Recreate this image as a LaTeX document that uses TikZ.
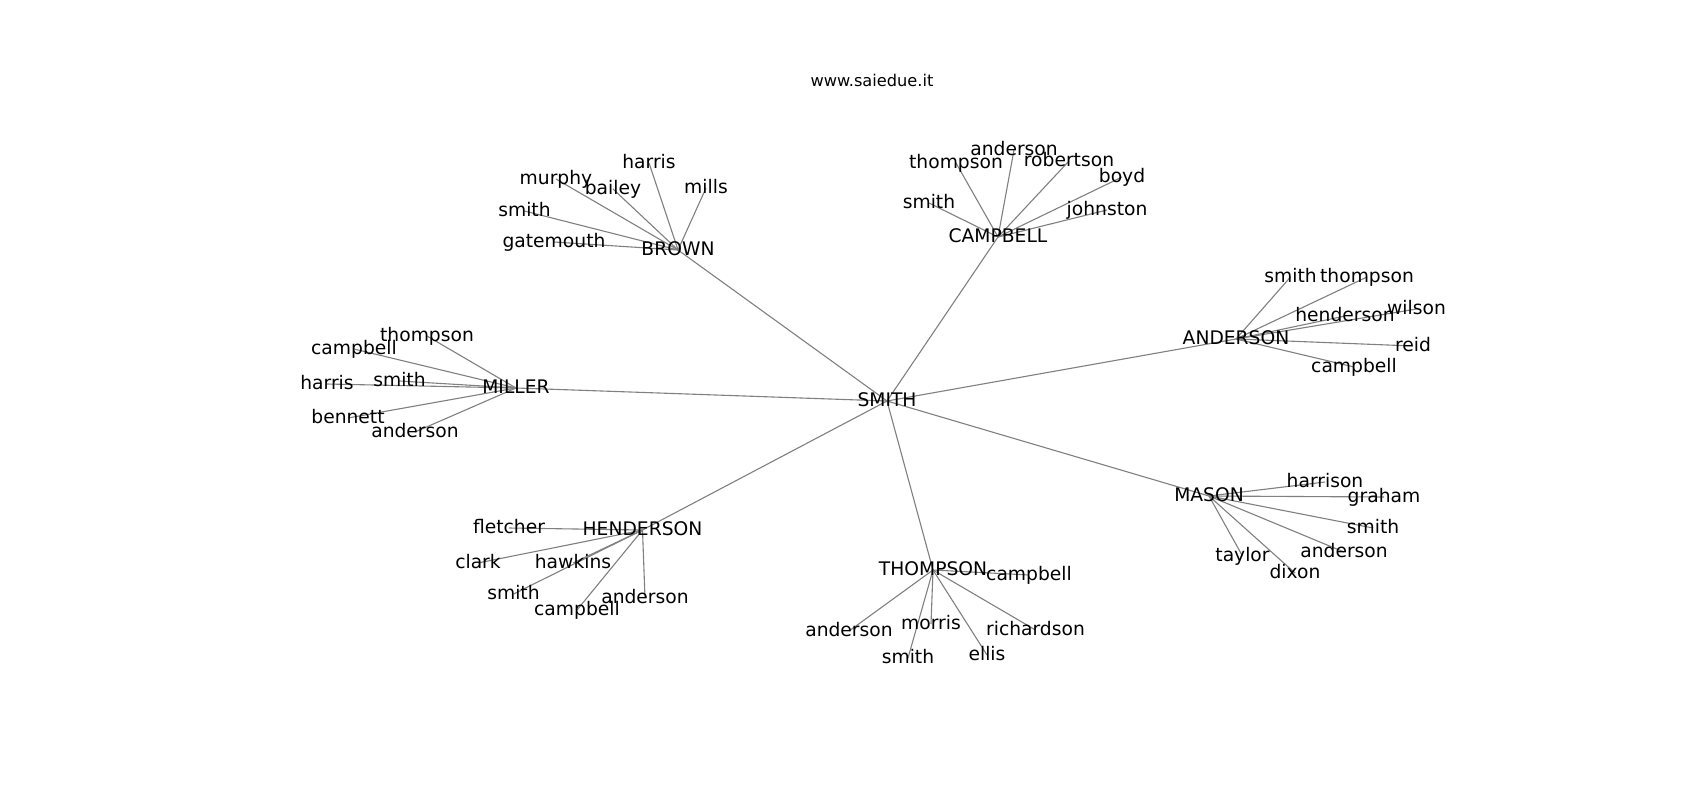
\documentclass[tikz,border=0pt]{standalone}
\usepackage{fontspec}
\setmainfont{DejaVu Sans}
\definecolor{edgegray}{RGB}{128,128,128}
\tikzset{
  lbl/.style={anchor=base, yshift=-5pt, inner sep=0pt, font=\fontsize{18.7}{20}\selectfont, text=black},
  ttl/.style={anchor=base, inner sep=0pt, font=\fontsize{16.2}{18}\selectfont, text=black},
  edge/.style={draw=edgegray, line width=1.1pt}
}
\begin{document}
\begin{tikzpicture}[x=1pt,y=-1pt]
\fill[white] (0,0) rectangle (1700,800);
\useasboundingbox (0,0) rectangle (1700,800);
% hubs
\coordinate (smith0) at (887,401);
\coordinate (brown) at (678,250);
\coordinate (campbell) at (998,237);
\coordinate (anderson) at (1236,339);
\coordinate (miller) at (516,388);
\coordinate (henderson) at (642.5,530);
\coordinate (thompson) at (933,570);
\coordinate (mason) at (1209,496);
% BROWN leaves
\coordinate (harrisB) at (649,163);
\coordinate (millsB) at (706,188);
\coordinate (murphyB) at (556,179);
\coordinate (baileyB) at (613,189);
\coordinate (smithB) at (524.5,211);
\coordinate (gatemouthB) at (554,242);
% CAMPBELL leaves
\coordinate (andersonC) at (1014,150);
\coordinate (thompsonC) at (956,163);
\coordinate (robertsonC) at (1069,161);
\coordinate (boydC) at (1122,177);
\coordinate (smithC) at (929,203);
\coordinate (johnstonC) at (1107,210);
% ANDERSON leaves
\coordinate (smithA) at (1290.5,277);
\coordinate (thompsonA) at (1367,277);
\coordinate (wilsonA) at (1416.5,309);
\coordinate (hendersonA) at (1345,316);
\coordinate (reidA) at (1413,346);
\coordinate (campbellA) at (1354,367);
% MILLER leaves
\coordinate (thompsonM) at (427,336);
\coordinate (campbellM) at (354,349);
\coordinate (harrisM) at (327,384);
\coordinate (smithM) at (399.5,381);
\coordinate (bennettM) at (348,418);
\coordinate (andersonM) at (415,432);
% HENDERSON leaves
\coordinate (fletcherH) at (509,528);
\coordinate (clarkH) at (478,563);
\coordinate (hawkinsH) at (573,563);
\coordinate (smithH) at (513.5,594);
\coordinate (andersonH) at (645,598);
\coordinate (campbellH) at (577,610);
% THOMPSON leaves
\coordinate (campbellT) at (1029,575);
\coordinate (andersonT) at (849,631);
\coordinate (morrisT) at (931,624);
\coordinate (richardsonT) at (1035.5,630);
\coordinate (smithT) at (908,658);
\coordinate (ellisT) at (987,655);
% MASON leaves
\coordinate (harrisonMa) at (1325,482);
\coordinate (grahamMa) at (1384,497);
\coordinate (smithMa) at (1373,528);
\coordinate (andersonMa) at (1344,552);
\coordinate (taylorMa) at (1242.5,556);
\coordinate (dixonMa) at (1295,573);
% edges
\foreach \h in {brown,campbell,anderson,miller,henderson,thompson,mason}
  \draw[edge] (smith0) -- (\h);
\foreach \l in {harrisB,millsB,murphyB,baileyB,smithB,gatemouthB}
  \draw[edge] (brown) -- (\l);
\foreach \l in {andersonC,thompsonC,robertsonC,boydC,smithC,johnstonC}
  \draw[edge] (campbell) -- (\l);
\foreach \l in {smithA,thompsonA,wilsonA,hendersonA,reidA,campbellA}
  \draw[edge] (anderson) -- (\l);
\foreach \l in {thompsonM,campbellM,harrisM,smithM,bennettM,andersonM}
  \draw[edge] (miller) -- (\l);
\foreach \l in {fletcherH,clarkH,hawkinsH,smithH,andersonH,campbellH}
  \draw[edge] (henderson) -- (\l);
\foreach \l in {campbellT,andersonT,morrisT,richardsonT,smithT,ellisT}
  \draw[edge] (thompson) -- (\l);
\foreach \l in {harrisonMa,grahamMa,smithMa,andersonMa,taylorMa,dixonMa}
  \draw[edge] (mason) -- (\l);
% labels
\node[ttl] (title) at (872,86.7) {www.saiedue.it};
\node[lbl] (Lsmith0) at (smith0) {SMITH};
\node[lbl] (Lbrown) at (brown) {BROWN};
\node[lbl] (Lcampbell) at (campbell) {CAMPBELL};
\node[lbl] (Landerson) at (anderson) {ANDERSON};
\node[lbl] (Lmiller) at (miller) {MILLER};
\node[lbl] (Lhenderson) at (henderson) {HENDERSON};
\node[lbl] (Lthompson) at (thompson) {THOMPSON};
\node[lbl] (Lmason) at (mason) {MASON};
\node[lbl] (LharrisB) at (harrisB) {harris};
\node[lbl] (LmillsB) at (millsB) {mills};
\node[lbl] (LmurphyB) at (murphyB) {murphy};
\node[lbl] (LbaileyB) at (baileyB) {bailey};
\node[lbl] (LsmithB) at (smithB) {smith};
\node[lbl] (LgatemouthB) at (gatemouthB) {gatemouth};
\node[lbl] (LandersonC) at (andersonC) {anderson};
\node[lbl] (LthompsonC) at (thompsonC) {thompson};
\node[lbl] (LrobertsonC) at (robertsonC) {robertson};
\node[lbl] (LboydC) at (boydC) {boyd};
\node[lbl] (LsmithC) at (smithC) {smith};
\node[lbl] (LjohnstonC) at (johnstonC) {johnston};
\node[lbl] (LsmithA) at (smithA) {smith};
\node[lbl] (LthompsonA) at (thompsonA) {thompson};
\node[lbl] (LwilsonA) at (wilsonA) {wilson};
\node[lbl] (LhendersonA) at (hendersonA) {henderson};
\node[lbl] (LreidA) at (reidA) {reid};
\node[lbl] (LcampbellA) at (campbellA) {campbell};
\node[lbl] (LthompsonM) at (thompsonM) {thompson};
\node[lbl] (LcampbellM) at (campbellM) {campbell};
\node[lbl] (LharrisM) at (harrisM) {harris};
\node[lbl] (LsmithM) at (smithM) {smith};
\node[lbl] (LbennettM) at (bennettM) {bennett};
\node[lbl] (LandersonM) at (andersonM) {anderson};
\node[lbl] (LfletcherH) at (fletcherH) {fletcher};
\node[lbl] (LclarkH) at (clarkH) {clark};
\node[lbl] (LhawkinsH) at (hawkinsH) {hawkins};
\node[lbl] (LsmithH) at (smithH) {smith};
\node[lbl] (LandersonH) at (andersonH) {anderson};
\node[lbl] (LcampbellH) at (campbellH) {campbell};
\node[lbl] (LcampbellT) at (campbellT) {campbell};
\node[lbl] (LandersonT) at (andersonT) {anderson};
\node[lbl] (LmorrisT) at (morrisT) {morris};
\node[lbl] (LrichardsonT) at (richardsonT) {richardson};
\node[lbl] (LsmithT) at (smithT) {smith};
\node[lbl] (LellisT) at (ellisT) {ellis};
\node[lbl] (LharrisonMa) at (harrisonMa) {harrison};
\node[lbl] (LgrahamMa) at (grahamMa) {graham};
\node[lbl] (LsmithMa) at (smithMa) {smith};
\node[lbl] (LandersonMa) at (andersonMa) {anderson};
\node[lbl] (LtaylorMa) at (taylorMa) {taylor};
\node[lbl] (LdixonMa) at (dixonMa) {dixon};
\end{tikzpicture}
\end{document}
